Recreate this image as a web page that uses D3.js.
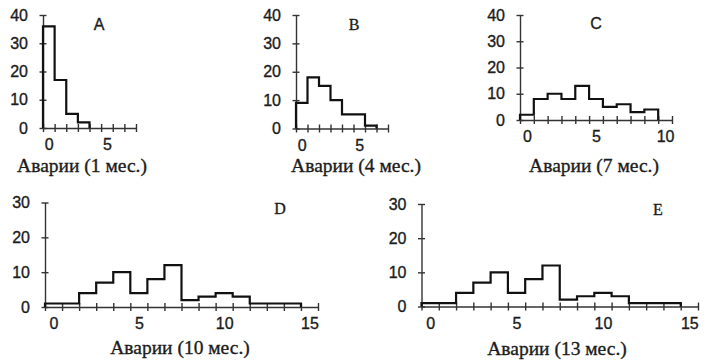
<!DOCTYPE html>
<html>
<head>
<meta charset="utf-8">
<script src="https://cdn.jsdelivr.net/npm/d3@7"></script>
<style>
  html, body { margin: 0; padding: 0; background: #fff; }
  svg { display: block; }
</style>
</head>
<body>
<div id="app"></div>
<script>
// accident counts per bin (bins centred on 0, 1, 2, ...)
const countsA = [36, 17, 5, 2];
const countsB = [9, 18, 15, 10, 5, 5, 1];
const countsC = [2, 8, 10, 8, 13, 8, 5, 6, 3, 4];
const countsD = [1, 1, 4, 7, 10, 4, 8, 12, 2, 3, 4, 3, 1, 1, 1];
const countsE = [1, 1, 4, 7, 10, 4, 8, 12, 2, 3, 4, 3, 1, 1, 1];

const panelLetters = ['A', 'B', 'C', 'D', 'E'];
const axisTitles = [
  'Аварии (1 мес.)',
  'Аварии (4 мес.)',
  'Аварии (7 мес.)',
  'Аварии (10 мес.)',
  'Аварии (13 мес.)',
];
const xLabelTicks = [[0, 5], [0, 5], [0, 5, 10], [0, 5, 10, 15], [0, 5, 10, 15]];
const yLabelTicks = [[0, 10, 20, 30, 40], [0, 10, 20, 30, 40], [0, 10, 20, 30, 40], [0, 10, 20, 30], [0, 10, 20, 30]];
const xMaxes = [7.5, 7.5, 10.5, 15.5, 15.5];

// layout of each small chart on the page
const layout = [
  { x: [43, 136], y: [128, 15], letter: [99, 30, 'sans'], title: [82, 172] },
  { x: [296, 388], y: [128.5, 15], letter: [354, 30, 'serif'], title: [356, 172] },
  { x: [520, 672], y: [120, 15], letter: [596, 29, 'sans'], title: [594, 172] },
  { x: [45, 318], y: [307, 202.5], letter: [280, 214, 'serif'], title: [180, 354] },
  { x: [421.5, 698], y: [306.5, 204], letter: [658, 215, 'serif'], title: [557, 355] },
];

const counts = [countsA, countsB, countsC, countsD, countsE];

const svg = d3.select('#app')
  .append('svg')
  .attr('width', 708)
  .attr('height', 363);

const SANS = 'Liberation Sans, Arial, sans-serif';
const SERIF = 'Liberation Serif, Times New Roman, serif';
const INK = '#1c1c1c';

const styleText = (sel, family, size) => sel
  .attr('font-family', family)
  .attr('font-size', size)
  .attr('fill', INK)
  .attr('stroke', INK)
  .attr('stroke-width', 0.35);

counts.forEach((data, i) => {
  const lay = layout[i];
  const yMax = d3.max(yLabelTicks[i]);
  const x = d3.scaleLinear().domain([-0.5, xMaxes[i]]).range(lay.x);
  const y = d3.scaleLinear().domain([0, yMax]).range(lay.y);

  const g = svg.append('g');

  // x axis: marks on bin edges, labels on round numbers
  const edges = d3.range(-0.5, xMaxes[i] + 0.01, 1);
  g.append('g')
    .attr('transform', `translate(0,${y(0)})`)
    .call(d3.axisBottom(x).tickValues(edges).tickFormat('').tickSizeOuter(0).tickSizeInner(4))
    .call((a) => {
      a.select('.domain').attr('stroke', '#333').attr('stroke-width', 1.4);
      a.selectAll('.tick line').attr('y1', -4).attr('y2', 4).attr('stroke', '#333').attr('stroke-width', 1.4);
    });
  g.append('g')
    .attr('transform', `translate(0,${y(0)})`)
    .call(d3.axisBottom(x).tickValues(xLabelTicks[i]).tickSize(0).tickPadding(11))
    .call((a) => {
      a.select('.domain').remove();
      a.selectAll('text').call(styleText, SANS, 16);
    });

  // y axis with crossing tick marks
  g.append('g')
    .attr('transform', `translate(${x(-0.5)},0)`)
    .call(d3.axisLeft(y).tickValues(yLabelTicks[i]).tickSizeOuter(0).tickSizeInner(3).tickPadding(12))
    .call((a) => {
      a.select('.domain').attr('stroke', '#333').attr('stroke-width', 1.4);
      a.selectAll('.tick line').attr('x1', -3.5).attr('x2', 3.5).attr('stroke', '#333').attr('stroke-width', 1.4);
      a.selectAll('text').call(styleText, SANS, 16);
    });

  // histogram as a stepped outline
  const path = d3.path();
  path.moveTo(x(-0.5), y(0));
  data.forEach((v, k) => {
    path.lineTo(x(k - 0.5), y(v));
    path.lineTo(x(k + 0.5), y(v));
  });
  path.lineTo(x(data.length - 0.5), y(0));
  g.append('path')
    .attr('d', path.toString())
    .attr('fill', 'none')
    .attr('stroke', '#111')
    .attr('stroke-width', 2.2)
    .attr('stroke-linejoin', 'miter');

  // panel letter
  g.append('text')
    .attr('x', lay.letter[0])
    .attr('y', lay.letter[1])
    .attr('text-anchor', 'middle')
    .call(styleText, lay.letter[2] === 'sans' ? SANS : SERIF, 16)
    .text(panelLetters[i]);

  // axis title
  g.append('text')
    .attr('x', lay.title[0])
    .attr('y', lay.title[1])
    .attr('text-anchor', 'middle')
    .call(styleText, SERIF, 19.5)
    .text(axisTitles[i]);
});
</script>
</body>
</html>
